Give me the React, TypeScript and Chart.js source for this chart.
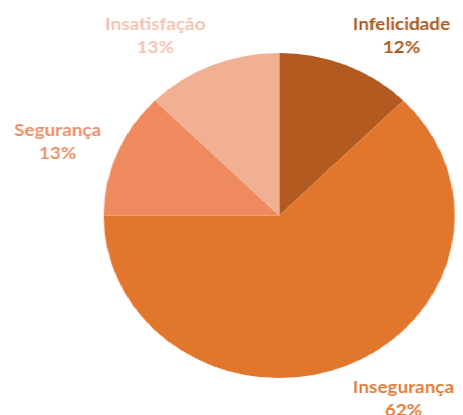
import React, { useEffect, useRef } from "react";
import { Chart, registerables } from "chart.js";

Chart.register(...registerables);

const categories = ["Infelicidade", "Insegurança", "Segurança", "Insatisfação"];
const values = [12.5, 62.5, 12.5, 12.5];
const percentLabels = ["12%", "62%", "13%", "13%"];
const sliceColors = ["#B35A20", "#E2762D", "#EE8A5E", "#F1AF93"];
const labelColors = ["#A8561F", "#E07A34", "#EC8E66", "#F4C3B0"];

const labelPlugin = {
  id: "outsideLabels",
  afterDatasetsDraw(chart: any) {
    const ctx = chart.ctx;
    const meta = chart.getDatasetMeta(0);
    ctx.save();
    ctx.font = "bold 17.5px Lato";
    ctx.textAlign = "center";
    ctx.textBaseline = "middle";
    meta.data.forEach((arc: any, i: number) => {
      const p = arc.getProps(["x", "y", "startAngle", "endAngle", "outerRadius"], true);
      const mid = (p.startAngle + p.endAngle) / 2;
      const c = Math.cos(mid);
      const s = Math.sin(mid);
      const d = p.outerRadius + 16;
      const ax = p.x + d * c;
      const ay = p.y + d * s;
      const w = Math.max(ctx.measureText(categories[i]).width, ctx.measureText(percentLabels[i]).width);
      const halfW = w / 2;
      const halfH = 18;
      const cx = ax + Math.sign(c) * halfW;
      const cy = ay + s * halfH + 1.5;
      ctx.fillStyle = labelColors[i];
      ctx.fillText(categories[i], cx, cy - 11.5);
      ctx.fillText(percentLabels[i], cx, cy + 11.5);
    });
    ctx.restore();
  },
};

export default function App() {
  const ref = useRef<HTMLCanvasElement>(null);
  useEffect(() => {
    if (!ref.current) return;
    const chart = new Chart(ref.current, {
      type: "pie",
      data: {
        labels: categories,
        datasets: [
          {
            data: values,
            backgroundColor: sliceColors,
            borderWidth: 0,
          },
        ],
      },
      options: {
        animation: false,
        responsive: true,
        maintainAspectRatio: false,
        layout: { padding: { left: 96, right: 8, top: 53, bottom: 37 } },
        plugins: {
          legend: { display: false },
          tooltip: { enabled: false },
        },
      },
      plugins: [labelPlugin],
    });
    return () => chart.destroy();
  }, []);
  return (
    <div
      style={{
        position: "fixed",
        left: 0,
        top: 0,
        width: 429,
        height: 415,
        transform: "scaleX(1.08)",
        transformOrigin: "0 0",
        background: "#ffffff",
      }}
    >
      <canvas ref={ref} />
    </div>
  );
}
